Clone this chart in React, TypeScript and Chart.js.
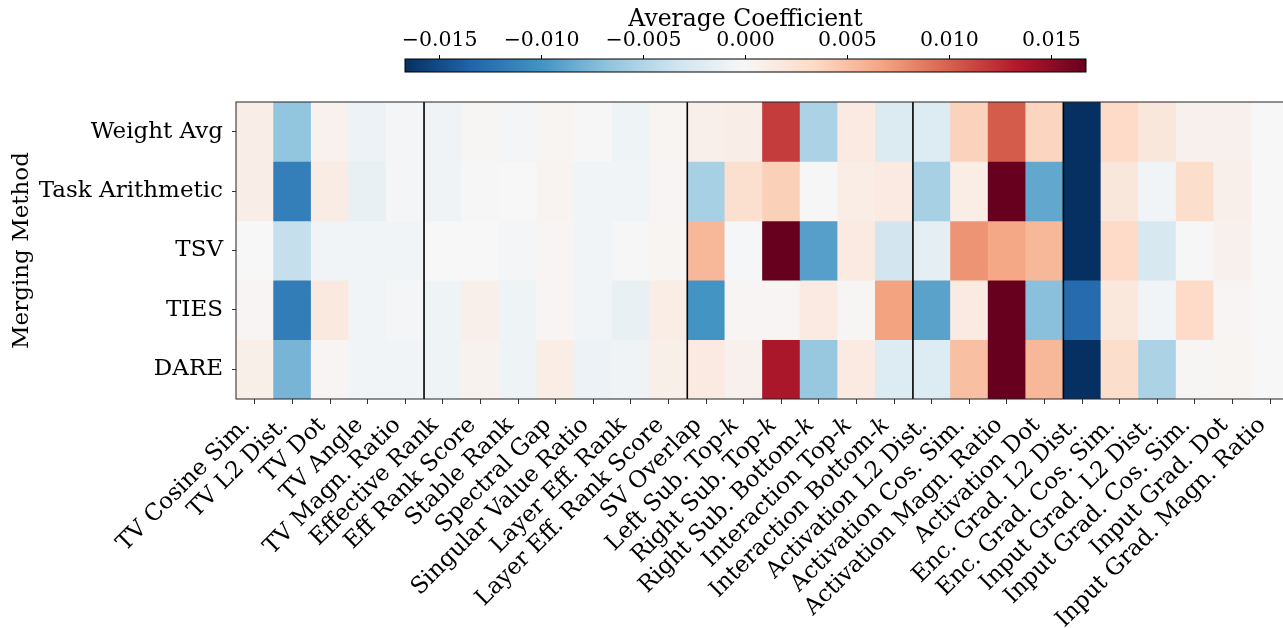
import React, { useEffect, useRef } from "react";
import { Chart, registerables } from "chart.js";

Chart.register(...registerables);

const ROWS = ["Weight Avg", "Task Arithmetic", "TSV", "TIES", "DARE"];

const COLUMNS = [
  "TV Cosine Sim.",
  "TV L2 Dist.",
  "TV Dot",
  "TV Angle",
  "TV Magn. Ratio",
  "Effective Rank",
  "Eff Rank Score",
  "Stable Rank",
  "Spectral Gap",
  "Singular Value Ratio",
  "Layer Eff. Rank",
  "Layer Eff. Rank Score",
  "SV Overlap",
  "Left Sub. Top-\u{1D458}",
  "Right Sub. Top-\u{1D458}",
  "Right Sub. Bottom-\u{1D458}",
  "Interaction Top-\u{1D458}",
  "Interaction Bottom-\u{1D458}",
  "Activation L2 Dist.",
  "Activation Cos. Sim.",
  "Activation Magn. Ratio",
  "Activation Dot",
  "Enc. Grad. L2 Dist.",
  "Enc. Grad. Cos. Sim.",
  "Input Grad. L2 Dist.",
  "Input Grad. Cos. Sim.",
  "Input Grad. Dot",
  "Input Grad. Magn. Ratio",
];

const WEIGHT_AVG = [0.0011, -0.0067, 0.0007, -0.001, -0.0003, -0.0007, 0.0002, -0.0003, 0.0004, 0.0001, -0.0008, 0.0004, 0.0009, 0.0011, 0.0117, -0.0053, 0.0015, -0.0024, -0.0023, 0.0039, 0.0102, 0.0037, -0.0167, 0.0033, 0.0019, 0.0008, 0.0008, 0.0];
const TASK_ARITH = [0.0011, -0.0115, 0.0013, -0.0013, -0.0003, -0.0007, 0.0001, 0.0, 0.0005, -0.0005, -0.0005, 0.0003, -0.0055, 0.0028, 0.004, 0.0001, 0.0012, 0.0015, -0.0055, 0.0012, 0.0167, -0.0087, -0.0167, 0.0019, -0.0005, 0.003, 0.0009, 0.0];
const TSV = [0.0, -0.004, -0.0006, -0.0006, -0.0005, 0.0, 0.0, -0.0003, 0.0003, -0.0005, -0.0001, 0.0004, 0.0055, -0.0002, 0.0167, -0.0092, 0.0015, -0.0032, -0.0017, 0.0075, 0.0065, 0.0055, -0.0167, 0.0033, -0.0027, -0.0001, 0.0008, 0.0];
const TIES = [0.0003, -0.0117, 0.0017, -0.0006, -0.0003, -0.0008, 0.0009, -0.0008, 0.0003, -0.0006, -0.0013, 0.0012, -0.01, 0.0003, 0.0003, 0.0015, 0.0002, 0.0068, -0.009, 0.0015, 0.0167, -0.007, -0.013, 0.0018, -0.0005, 0.0033, 0.0003, 0.0];
const DARE = [0.001, -0.0078, 0.0003, -0.0006, -0.0006, -0.0008, 0.0006, -0.0008, 0.0012, -0.001, -0.0007, 0.001, 0.0015, 0.0008, 0.0137, -0.0064, 0.0015, -0.0023, -0.0023, 0.0051, 0.0167, 0.0055, -0.0167, 0.003, -0.0053, 0.0002, 0.0004, 0.0];

const SERIES = [WEIGHT_AVG, TASK_ARITH, TSV, TIES, DARE];

// column indices where a new group of metrics begins (separator lines)
const GROUP_STARTS = [5, 12, 18, 22];

const V_MIN = -0.0167;
const V_MAX = 0.0167;
const CBAR_TICKS = [-0.015, -0.01, -0.005, 0, 0.005, 0.01, 0.015];

// RdBu_r colormap anchors
const RDBU_R: number[][] = [
  [5, 48, 97],
  [33, 102, 172],
  [67, 147, 195],
  [146, 197, 222],
  [209, 229, 240],
  [247, 247, 247],
  [253, 219, 199],
  [244, 165, 130],
  [214, 96, 77],
  [178, 24, 43],
  [103, 0, 31],
];

const FONT_FAMILY = "'DejaVu Serif', serif";

function colorFor(v: number): string {
  let t = (v - V_MIN) / (V_MAX - V_MIN);
  t = Math.max(0, Math.min(1, t));
  const pos = t * (RDBU_R.length - 1);
  const i = Math.min(Math.floor(pos), RDBU_R.length - 2);
  const f = pos - i;
  const a = RDBU_R[i];
  const b = RDBU_R[i + 1];
  const c = a.map((x, k) => Math.round(x + (b[k] - x) * f));
  return `rgb(${c[0]},${c[1]},${c[2]})`;
}

function fmtTick(v: number): string {
  const s = Math.abs(v) < 1e-12 ? "0.000" : v.toFixed(3);
  return s.replace("-", "\u2212");
}

const separatorPlugin = {
  id: "separators",
  afterDatasetsDraw(chart: any) {
    const { ctx, chartArea, scales } = chart;
    const x = scales.x;
    ctx.save();
    ctx.strokeStyle = "#000";
    ctx.lineWidth = 1.6;
    GROUP_STARTS.forEach((i) => {
      const px = (x.getPixelForValue(i - 1) + x.getPixelForValue(i)) / 2;
      ctx.beginPath();
      ctx.moveTo(px, chartArea.top);
      ctx.lineTo(px, chartArea.bottom);
      ctx.stroke();
    });
    ctx.lineWidth = 1;
    ctx.strokeStyle = "#222";
    ctx.strokeRect(
      chartArea.left,
      chartArea.top,
      chartArea.right - chartArea.left,
      chartArea.bottom - chartArea.top
    );
    ctx.restore();
  },
};

const gradientPlugin = {
  id: "cbarGradient",
  beforeDatasetsDraw(chart: any) {
    const { ctx, chartArea } = chart;
    const g = ctx.createLinearGradient(chartArea.left, 0, chartArea.right, 0);
    RDBU_R.forEach((c, i) => {
      g.addColorStop(i / (RDBU_R.length - 1), `rgb(${c[0]},${c[1]},${c[2]})`);
    });
    ctx.save();
    ctx.fillStyle = g;
    ctx.fillRect(chartArea.left, chartArea.top, chartArea.right - chartArea.left, chartArea.bottom - chartArea.top);
    ctx.strokeStyle = "#000";
    ctx.lineWidth = 1;
    ctx.strokeRect(chartArea.left, chartArea.top, chartArea.right - chartArea.left, chartArea.bottom - chartArea.top);
    ctx.restore();
  },
};

export default function App() {
  const mainRef = useRef<HTMLCanvasElement | null>(null);
  const cbarRef = useRef<HTMLCanvasElement | null>(null);

  useEffect(() => {
    if (!mainRef.current || !cbarRef.current) return;
    const font = { family: FONT_FAMILY, size: 23 };
    const cbFont = { family: FONT_FAMILY, size: 20.5 };

    const main = new Chart(mainRef.current, {
      type: "bar",
      data: {
        labels: COLUMNS,
        datasets: SERIES.map((vals, r) => ({
          label: ROWS[r],
          data: vals.map(() => [r, r + 1]),
          backgroundColor: vals.map(colorFor),
          borderWidth: 0,
          grouped: false,
          barPercentage: 1,
          categoryPercentage: 1,
        })) as any,
      },
      options: {
        responsive: false,
        animation: false,
        layout: { padding: { top: 102, right: 11, left: 0, bottom: 0 } },
        plugins: { legend: { display: false }, tooltip: { enabled: false } },
        scales: {
          x: {
            type: "category",
            offset: true,
            grid: { display: true, offset: false, drawOnChartArea: false, tickLength: 5, color: "#333", tickWidth: 1 },
            border: { display: false },
            ticks: {
              autoSkip: false,
              maxRotation: 45,
              minRotation: 45,
              font,
              color: "#000",
              padding: 8,
              labelOffset: -8,
            },
            afterFit: (s: any) => {
              s.height = 229;
            },
          },
          y: {
            type: "linear",
            min: 0,
            max: 5,
            reverse: true,
            afterBuildTicks: (s: any) => {
              s.ticks = ROWS.map((_, i) => ({ value: i + 0.5 }));
            },
            ticks: {
              callback: (v: any) => ROWS[Math.floor(Number(v))],
              font,
              color: "#000",
              padding: 9,
            },
            grid: { drawOnChartArea: false, tickLength: 4, color: "#333" },
            border: { display: false },
            title: { display: true, text: "Merging Method", font, color: "#000", padding: { top: 8, bottom: 0 } },
            afterFit: (s: any) => {
              s.width = 236;
            },
          },
        },
      } as any,
      plugins: [separatorPlugin],
    });

    const cbar = new Chart(cbarRef.current, {
      type: "scatter",
      data: { datasets: [] },
      options: {
        responsive: false,
        animation: false,
        layout: { padding: { left: 405, right: 197, top: 0, bottom: 8 } },
        plugins: { legend: { display: false }, tooltip: { enabled: false } },
        scales: {
          x: {
            type: "linear",
            position: "top",
            min: V_MIN,
            max: V_MAX,
            afterBuildTicks: (s: any) => {
              s.ticks = CBAR_TICKS.map((v) => ({ value: v }));
            },
            ticks: { callback: (v: any) => fmtTick(Number(v)), font: cbFont, color: "#000", padding: 2, maxRotation: 0 },
            grid: { drawOnChartArea: false, tickLength: 4, color: "#000" },
            border: { display: false },
            title: { display: true, text: "Average Coefficient", font: { family: FONT_FAMILY, size: 23.5 }, color: "#000", padding: { top: 6, bottom: 0 } },
            afterFit: (s: any) => {
              s.height = 59;
            },
          },
          y: { display: false, min: 0, max: 1 },
        },
      } as any,
      plugins: [gradientPlugin],
    });

    return () => {
      main.destroy();
      cbar.destroy();
    };
  }, []);

  return (
    <div
      style={{
        position: "fixed",
        left: 0,
        top: 0,
        width: 1283,
        height: 628,
        overflow: "hidden",
        background: "#fff",
      }}
    >
      <canvas
        ref={mainRef}
        width={1300}
        height={628}
        style={{ position: "absolute", left: 0, top: 0, width: 1300, height: 628 }}
      />
      <canvas
        ref={cbarRef}
        width={1283}
        height={80}
        style={{ position: "absolute", left: 0, top: 0, width: 1283, height: 80 }}
      />
    </div>
  );
}
